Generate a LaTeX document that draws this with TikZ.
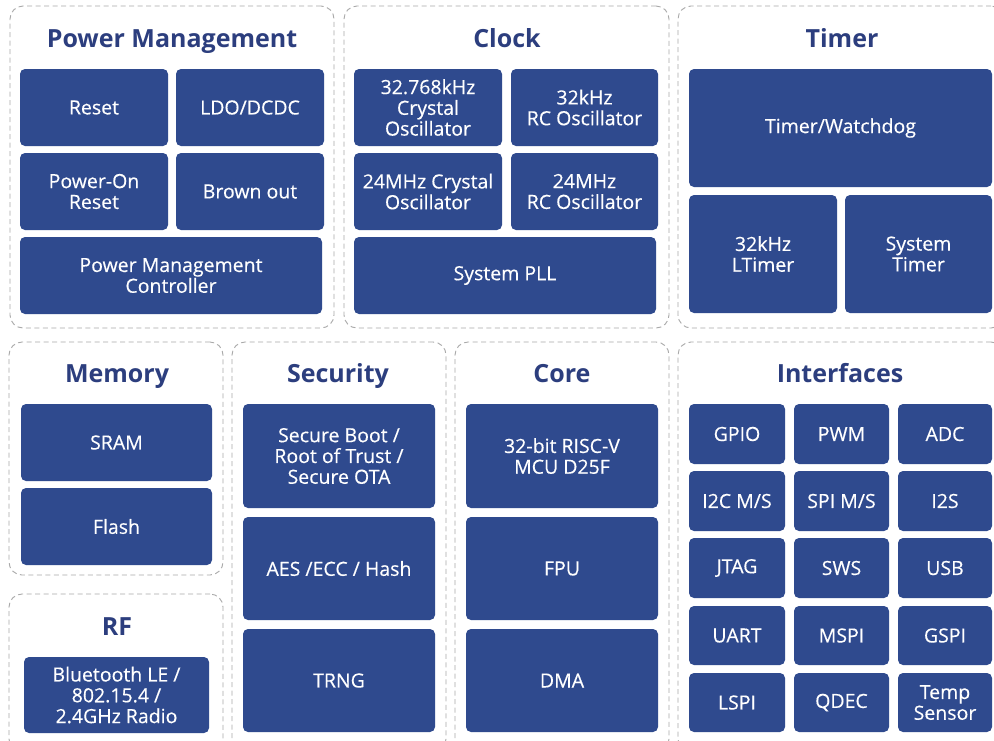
\documentclass[tikz,border=0pt]{standalone}
\usepackage{fontspec}
\setmainfont{Open Sans}
\newfontfamily\boxfont[FakeBold=0.35]{Open Sans}
\definecolor{boxblue}{HTML}{2F4A8E}
\definecolor{titleblue}{HTML}{2C3E7E}
\definecolor{dashgray}{HTML}{A8A8A8}
\newcommand\blk[6]{\node[blk, minimum width={#4-#2}, minimum height={#5-#3}] (#1) at ({(#2+#4)/2},{(#3+#5)/2}) {#6};}
\newcommand\pnl[5]{\node[panelbox, minimum width={#4-#2}, minimum height={#5-#3}] (#1) at ({(#2+#4)/2},{(#3+#5)/2}) {};}
\begin{document}
\begin{tikzpicture}[x=1pt,y=-1pt,
  blk/.style={fill=boxblue, rounded corners=5pt, inner sep=0pt, align=center, text=white,
    font=\boxfont\fontsize{19.5}{20.8}\selectfont},
  panelbox/.style={draw=dashgray, line width=0.9pt, dash pattern=on 5pt off 3.5pt, rounded corners=13pt, inner sep=0pt},
  ttl/.style={text=titleblue, inner sep=0pt, anchor=base, font=\fontsize{25}{28}\selectfont\bfseries}]
\useasboundingbox (0,0) rectangle (994,740);
\clip (0,0) rectangle (994,740);
\fill[white] (0,0) rectangle (994,740);
% panels
\pnl{ppm}{10}{6}{334}{328}
\pnl{pclk}{344}{6}{669}{328}
\pnl{ptim}{678}{6}{1004}{328}
\pnl{pmem}{9}{342}{223}{575}
\pnl{prf}{9}{594}{223}{752}
\pnl{psec}{232}{342}{446}{752}
\pnl{pcore}{455}{342}{669}{752}
\pnl{pif}{678}{342}{1004}{752}
% titles
\node[ttl] (tpm) at (172,47) {Power Management};
\node[ttl] (tclk) at (507,47) {Clock};
\node[ttl] (ttim) at (842,47) {Timer};
\node[ttl] (tmem) at (117,382) {Memory};
\node[ttl] (trf) at (117,635) {RF};
\node[ttl] (tsec) at (338,382) {Security};
\node[ttl] (tcore) at (562,382) {Core};
\node[ttl] (tif) at (840,382) {Interfaces};
% Power Management
\blk{reset}{20}{69}{168}{146}{Reset}
\blk{ldo}{176}{69}{324}{146}{LDO/DCDC}
\blk{por}{20}{153}{168}{230}{Power-On\\Reset}
\blk{bo}{176}{153}{324}{230}{Brown out}
\blk{pmc}{20}{237}{322}{314}{Power Management\\Controller}
% Clock
\blk{x32}{354}{69}{502}{146}{32.768kHz\\Crystal\\Oscillator}
\blk{rc32}{511}{69}{658}{146}{32kHz\\RC Oscillator}
\blk{x24}{354}{153}{502}{230}{24MHz Crystal\\Oscillator}
\blk{rc24}{511}{153}{658}{230}{24MHz\\RC Oscillator}
\blk{pll}{354}{237}{656}{314}{System PLL}
% Timer
\blk{wdt}{689}{69}{992}{187}{Timer/Watchdog}
\blk{lt}{689}{195}{837}{313}{32kHz\\LTimer}
\blk{st}{845}{195}{992}{313}{System\\Timer}
% Memory
\blk{sram}{21}{404}{212}{481}{SRAM}
\blk{flash}{21}{488}{212}{565}{Flash}
% RF
\blk{ble}{24}{657}{209}{733}{Bluetooth LE /\\802.15.4 /\\2.4GHz Radio}
% Security
\blk{sboot}{243}{404}{435}{508}{Secure Boot /\\Root of Trust /\\Secure OTA}
\blk{aes}{243}{517}{435}{620}{AES /ECC / Hash}
\blk{trng}{243}{629}{435}{732}{TRNG}
% Core
\blk{cpu}{466}{404}{658}{508}{32-bit RISC-V\\MCU D25F}
\blk{fpu}{466}{517}{658}{620}{FPU}
\blk{dma}{466}{629}{658}{732}{DMA}
% Interfaces
\blk{gpio}{689}{404}{785}{464}{GPIO}
\blk{pwm}{794}{404}{889}{464}{PWM}
\blk{adc}{898}{404}{992}{464}{ADC}
\blk{i2c}{689}{471}{785}{531}{I2C M/S}
\blk{spi}{794}{471}{889}{531}{SPI M/S}
\blk{i2s}{898}{471}{992}{531}{I2S}
\blk{jtag}{689}{538}{785}{598}{JTAG}
\blk{sws}{794}{538}{889}{598}{SWS}
\blk{usb}{898}{538}{992}{598}{USB}
\blk{uart}{689}{606}{785}{665}{UART}
\blk{mspi}{794}{606}{889}{665}{MSPI}
\blk{gspi}{898}{606}{992}{665}{GSPI}
\blk{lspi}{689}{673}{785}{732}{LSPI}
\blk{qdec}{794}{673}{889}{732}{QDEC}
\blk{temp}{898}{673}{992}{732}{Temp\\Sensor}
\end{tikzpicture}
\end{document}
